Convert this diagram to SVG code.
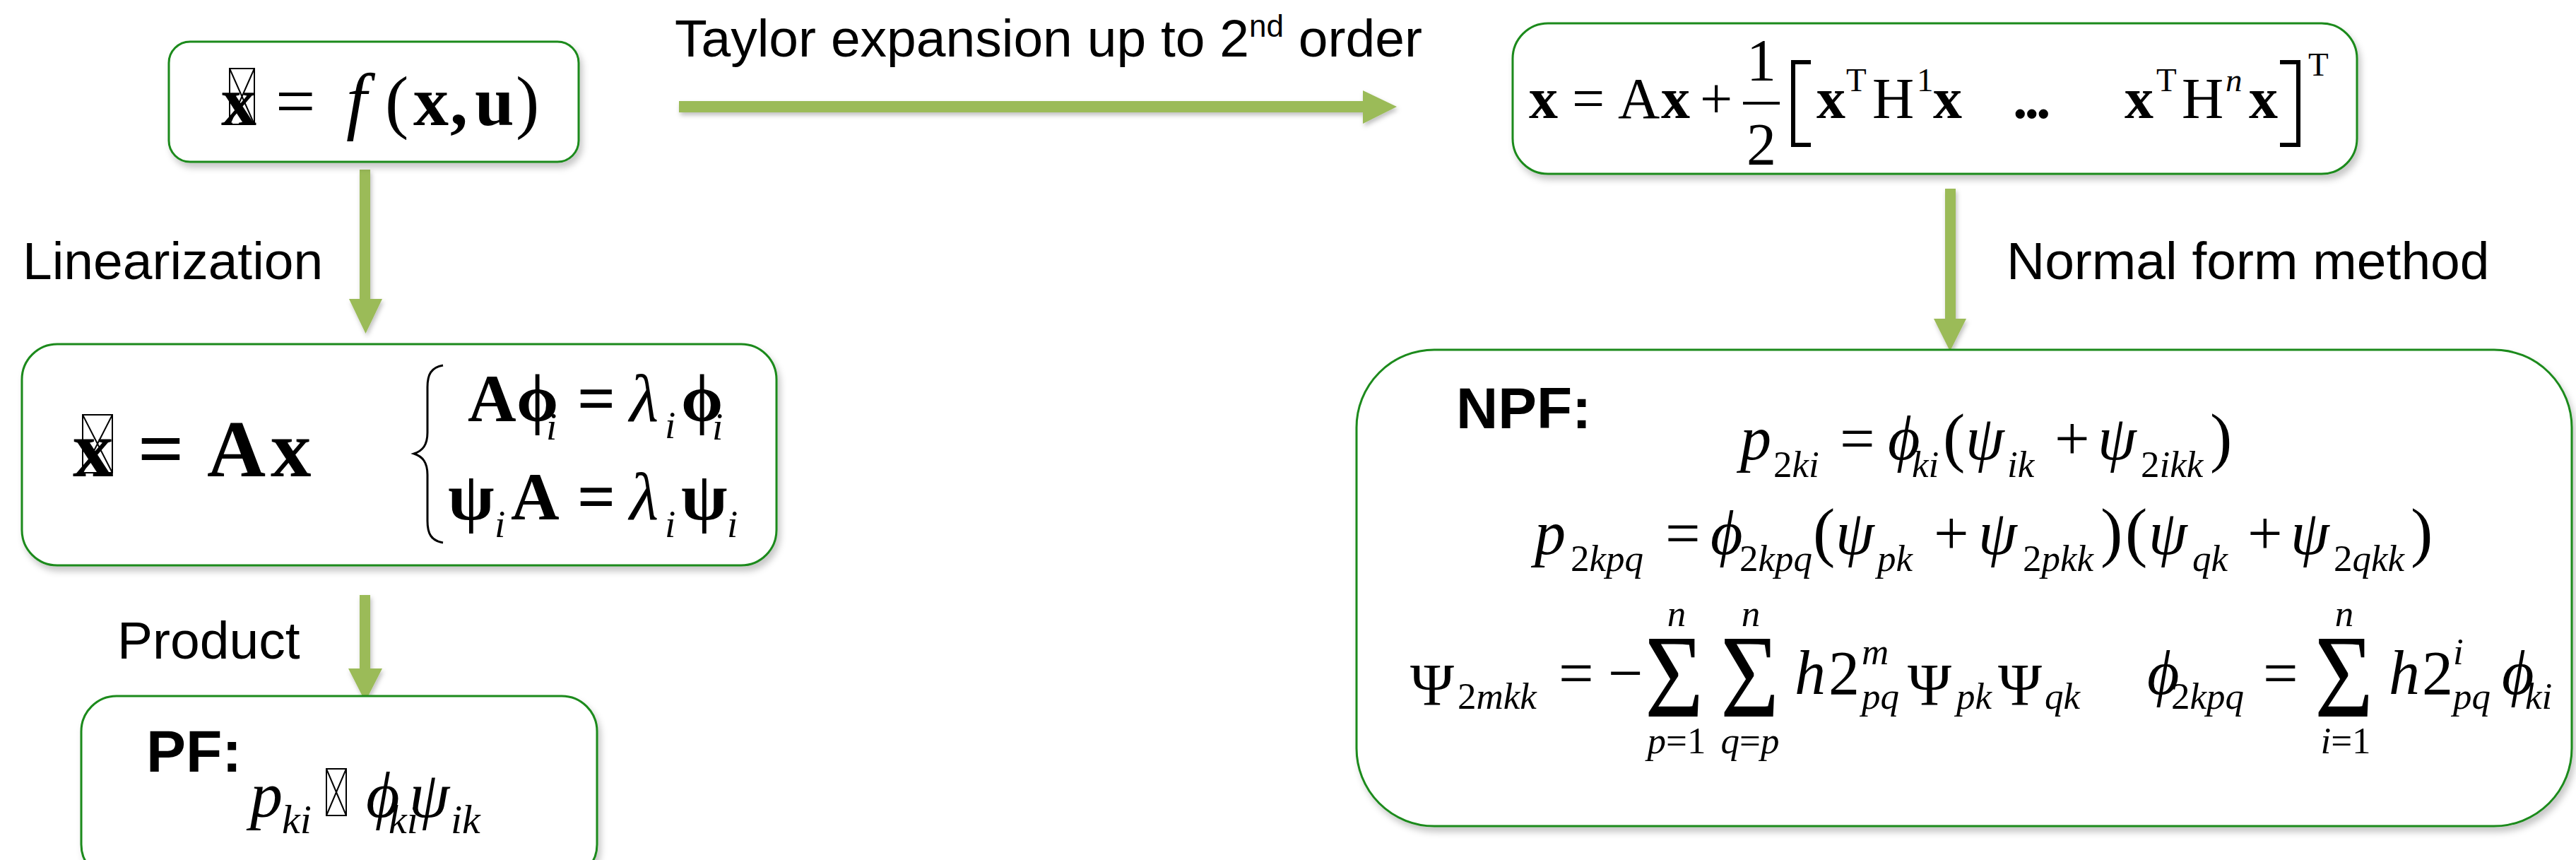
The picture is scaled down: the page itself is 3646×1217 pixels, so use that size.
<svg xmlns="http://www.w3.org/2000/svg" width="3646" height="1217" viewBox="0 0 3646 1217">
<style>
.box{fill:#fff;stroke:#1a8a1a;stroke-width:3;filter:url(#sh)}
.arr{fill:#9BBB59;filter:url(#sh2)}
.lbl{font-family:"Liberation Sans",Arial,sans-serif;font-size:75px;fill:#000}
.hd{font-family:"Liberation Sans",Arial,sans-serif;font-weight:bold;fill:#000}
.m{font-family:"Liberation Serif","Times New Roman","DejaVu Serif",serif;fill:#000}
.b{font-weight:bold}
.i{font-style:italic}
.tofu{fill:none;stroke:#000;stroke-width:2}
</style>
<defs>
<filter id="sh" x="-10%" y="-10%" width="125%" height="130%">
<feDropShadow dx="4" dy="7" stdDeviation="5" flood-color="#000" flood-opacity="0.22"/>
</filter>
<filter id="sh2" x="-20%" y="-20%" width="150%" height="150%">
<feDropShadow dx="2" dy="4" stdDeviation="3" flood-color="#000" flood-opacity="0.25"/>
</filter>
</defs>
<rect width="3646" height="1217" fill="#fff"/>

<g id="connectors">
<polygon class="arr" points="509,240 524,240 524,423 541,423 517.5,472 494,423 509,423"/>
<polygon class="arr" points="509,842 524,842 524,946 541,946 517,993 493,946 509,946"/>
<polygon class="arr" points="961,143 1929,143 1929,128 1977,151 1929,175 1929,159 961,159"/>
<polygon class="arr" points="2753,267 2768,267 2768,451 2783,451 2760,497 2737,451 2753,451"/>
<text class="lbl" x="955" y="80">Taylor expansion up to 2<tspan font-size="44" dy="-28">nd</tspan><tspan dy="28"> order</tspan></text>
<text class="lbl" x="32" y="395">Linearization</text>
<text class="lbl" x="166" y="932">Product</text>
<text class="lbl" x="2840" y="395">Normal form method</text>
</g>

<g id="node-nonlinear">
<rect class="box" x="239" y="59" width="580" height="170" rx="30"/>
<g class="m" font-size="100">
<text class="b" x="313" y="177">x</text>
<text x="390" y="177">=</text>
<text class="i" x="490" y="177" font-size="105">f</text>
<text x="545" y="177">(</text>
<text class="b" x="585" y="177">x</text>
<text class="b" x="637" y="177">,</text>
<text class="b" x="672" y="177">u</text>
<text x="730" y="177">)</text>
</g>
<g class="tofu"><rect x="325" y="97" width="35" height="79"/><path d="M325,97 L360,176 M360,97 L325,176"/></g>
</g>

<g id="node-linear">
<rect class="box" x="31" y="487" width="1068" height="313" rx="50"/>
<g class="m b" font-size="115">
<text x="103" y="674">x</text>
<text x="195" y="674">=</text>
<text x="293" y="674">A</text>
<text x="383" y="674">x</text>
</g>
<g class="tofu"><rect x="117" y="587" width="42" height="82"/><path d="M117,587 L159,669 M159,587 L117,669"/></g>
<path d="M627,517 C610,520 605,530 605,548 L605,612 C605,630 598,638 586,642 C598,646 605,654 605,672 L605,737 C605,755 610,765 627,768" fill="none" stroke="#000" stroke-width="3"/>
<g class="m" font-size="95">
<text class="b" x="662" y="596">A</text>
<text class="b" x="731" y="596">ϕ</text>
<text class="i" x="773" y="622" font-size="55">i</text>
<text class="b" x="817" y="596">=</text>
<text class="i" x="891" y="596">λ</text>
<text class="i" x="941" y="620" font-size="55">i</text>
<text class="b" x="964" y="596">ϕ</text>
<text class="i" x="1008" y="622" font-size="55">i</text>
<text class="b" x="634" y="735">ψ</text>
<text class="i" x="700" y="760" font-size="55">i</text>
<text class="b" x="723" y="735">A</text>
<text class="b" x="817" y="735">=</text>
<text class="i" x="891" y="735">λ</text>
<text class="i" x="941" y="760" font-size="55">i</text>
<text class="b" x="964" y="735">ψ</text>
<text class="i" x="1029" y="760" font-size="55">i</text>
</g>
</g>

<g id="node-pf">
<rect class="box" x="115" y="985" width="730" height="260" rx="50"/>
<text class="hd" x="207" y="1092" font-size="84">PF:</text>
<g class="m i" font-size="92">
<text x="354" y="1156">p</text>
<text x="399" y="1179" font-size="58">ki</text>
<text x="518" y="1156">ϕ</text>
<text x="550" y="1179" font-size="58">ki</text>
<text x="579" y="1156">ψ</text>
<text x="638" y="1179" font-size="58">ik</text>
</g>
<g class="tofu"><rect x="462" y="1088" width="28" height="66"/><path d="M462,1088 L490,1154 M490,1088 L462,1154"/></g>
</g>

<g id="node-taylor">
<rect class="box" x="2141" y="33" width="1195" height="213" rx="50"/>
<g class="m" font-size="82">
<text class="b" x="2164" y="167">x</text>
<text x="2225" y="167">=</text>
<text x="2290" y="167">A</text>
<text class="b" x="2351" y="167">x</text>
<text x="2406" y="167">+</text>
<text x="2493" y="114" font-size="84" text-anchor="middle">1</text>
<text x="2493" y="233" font-size="84" text-anchor="middle">2</text>
<text class="b" x="2571" y="167">x</text>
<text x="2613" y="129" font-size="47">T</text>
<text x="2650" y="167">H</text>
<text x="2713" y="129" font-size="47">1</text>
<text class="b" x="2736" y="167">x</text>
<text class="b" x="2849" y="167" letter-spacing="-4">...</text>
<text class="b" x="3007" y="167">x</text>
<text x="3052" y="129" font-size="47">T</text>
<text x="3088" y="167">H</text>
<text class="i" x="3150" y="129" font-size="47">n</text>
<text class="b" x="3183" y="167">x</text>
<text x="3267" y="107" font-size="47">T</text>
</g>
<rect x="2467" y="144" width="52" height="4" fill="#000"/>
<path d="M2563,88 L2538,88 L2538,205 L2563,205" fill="none" stroke="#000" stroke-width="6"/>
<path d="M3227,88 L3253,88 L3253,205 L3227,205" fill="none" stroke="#000" stroke-width="6"/>
</g>

<g id="node-npf">
<rect class="box" x="1920" y="495" width="1720" height="674" rx="110"/>
<text class="hd" x="2061" y="606" font-size="82">NPF:</text>
<g class="m" font-size="88">
<text class="i" x="2463" y="650">p</text>
<text x="2510" y="675" font-size="53">2<tspan class="i">ki</tspan></text>
<text x="2604" y="650">=</text>
<text class="i" x="2672" y="650">ϕ</text>
<text class="i" x="2706" y="675" font-size="53">ki</text>
<text x="2750" y="650" font-size="94">(</text>
<text class="i" x="2782" y="650">ψ</text>
<text class="i" x="2841" y="675" font-size="53">ik</text>
<text x="2908" y="650">+</text>
<text class="i" x="2969" y="650">ψ</text>
<text x="3030" y="675" font-size="53">2<tspan class="i">ikk</tspan></text>
<text x="3128" y="650" font-size="94">)</text>

<text class="i" x="2172" y="784">p</text>
<text x="2223" y="808" font-size="53">2<tspan class="i">kpq</tspan></text>
<text x="2357" y="784">=</text>
<text class="i" x="2421" y="784">ϕ</text>
<text x="2462" y="808" font-size="53">2<tspan class="i">kpq</tspan></text>
<text x="2566" y="784" font-size="94">(</text>
<text class="i" x="2598" y="784">ψ</text>
<text class="i" x="2657" y="808" font-size="53">pk</text>
<text x="2737" y="784">+</text>
<text class="i" x="2800" y="784">ψ</text>
<text x="2863" y="808" font-size="53">2<tspan class="i">pkk</tspan></text>
<text x="2973" y="784" font-size="94">)</text>
<text x="3008" y="784" font-size="94">(</text>
<text class="i" x="3041" y="784">ψ</text>
<text class="i" x="3103" y="808" font-size="53">qk</text>
<text x="3181" y="784">+</text>
<text class="i" x="3242" y="784">ψ</text>
<text x="3303" y="808" font-size="53">2<tspan class="i">qkk</tspan></text>
<text x="3412" y="784" font-size="94">)</text>

<text x="1996" y="998" font-size="84">Ψ</text>
<text x="2063" y="1003" font-size="53">2<tspan class="i">mkk</tspan></text>
<text x="2206" y="982">=</text>
<text x="2276" y="982">−</text>
<text x="0" y="0" font-size="168" transform="translate(2328,1014) scale(0.85,1)">Σ</text>
<text x="0" y="0" font-size="168" transform="translate(2435,1014) scale(0.85,1)">Σ</text>
<text class="i" x="2373" y="886" font-size="53" text-anchor="middle">n</text>
<text class="i" x="2478" y="886" font-size="53" text-anchor="middle">n</text>
<text x="2373" y="1066" font-size="53" text-anchor="middle"><tspan class="i">p</tspan>=1</text>
<text x="2477" y="1066" font-size="53" text-anchor="middle"><tspan class="i">q</tspan>=<tspan class="i">p</tspan></text>
<text class="i" x="2540" y="982">h</text>
<text x="2588" y="982">2</text>
<text class="i" x="2635" y="940" font-size="53">m</text>
<text class="i" x="2635" y="1003" font-size="53">pq</text>
<text x="2700" y="998" font-size="84">Ψ</text>
<text class="i" x="2769" y="1003" font-size="53">pk</text>
<text x="2828" y="998" font-size="84">Ψ</text>
<text class="i" x="2894" y="1003" font-size="53">qk</text>

<text class="i" x="3039" y="982">ϕ</text>
<text x="3073" y="1003" font-size="53">2<tspan class="i">kpq</tspan></text>
<text x="3203" y="982">=</text>
<text x="0" y="0" font-size="168" transform="translate(3276,1014) scale(0.85,1)">Σ</text>
<text class="i" x="3318" y="886" font-size="53" text-anchor="middle">n</text>
<text x="3320" y="1066" font-size="53" text-anchor="middle"><tspan class="i">i</tspan>=1</text>
<text class="i" x="3381" y="982">h</text>
<text x="3428" y="982">2</text>
<text class="i" x="3472" y="940" font-size="53">i</text>
<text class="i" x="3472" y="1003" font-size="53">pq</text>
<text class="i" x="3541" y="982">ϕ</text>
<text class="i" x="3574" y="1003" font-size="53">ki</text>
</g>
</g>
</svg>
